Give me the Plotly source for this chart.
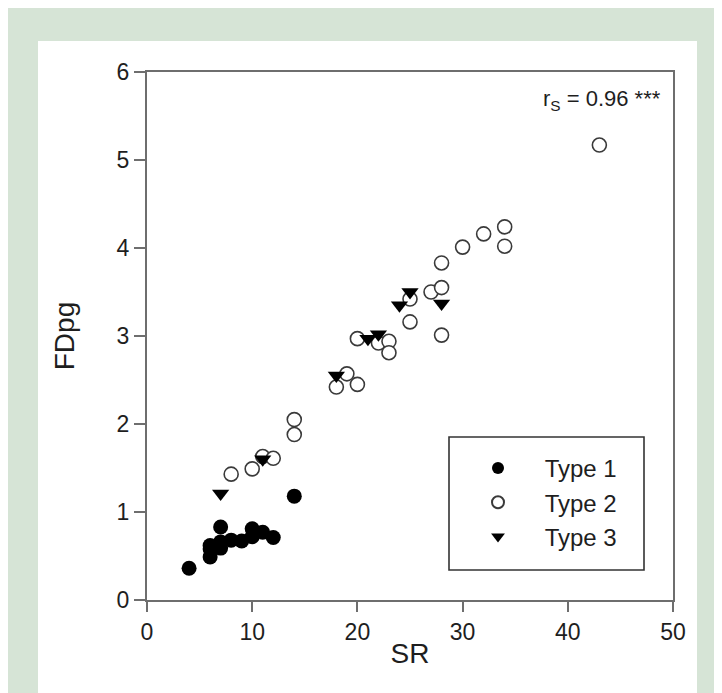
import plotly.graph_objects as go

# Data
type1_sr = [4, 6, 6, 6, 7, 7, 7, 8, 9, 10, 10, 11, 12, 14]
type1_fd = [0.36, 0.49, 0.58, 0.62, 0.83, 0.59, 0.66, 0.68, 0.67, 0.81, 0.72, 0.77, 0.71, 1.18]

type2_sr = [8, 10, 11, 12, 14, 14, 18, 19, 20, 20, 22, 23, 23, 25, 25, 27, 28, 28, 28, 30, 32, 34, 34, 43]
type2_fd = [1.43, 1.49, 1.63, 1.61, 2.05, 1.88, 2.42, 2.57, 2.45, 2.97, 2.92, 2.94, 2.81, 3.16, 3.42, 3.50, 3.55, 3.01, 3.83, 4.01, 4.16, 4.24, 4.02, 5.17]

type3_sr = [7, 11, 18, 21, 22, 24, 25, 28]
type3_fd = [1.21, 1.60, 2.55, 2.97, 3.02, 3.35, 3.50, 3.37]

x_ticks = [0, 10, 20, 30, 40, 50]
y_ticks = [0, 1, 2, 3, 4, 5, 6]

FONT = "Liberation Sans, Arial, sans-serif"
AXIS_COLOR = "#6e6e6e"
TEXT_COLOR = "#1e1e1e"

PAD = "\u00a0\u00a0\u00a0\u00a0"

fig = go.Figure()
fig.add_trace(go.Scatter(
    x=type1_sr, y=type1_fd, mode="markers", name=PAD + "Type 1",
    marker=dict(symbol="circle", size=15, color="black", line=dict(width=0)),
))
fig.add_trace(go.Scatter(
    x=type2_sr, y=type2_fd, mode="markers", name=PAD + "Type 2",
    marker=dict(symbol="circle", size=14, color="white", line=dict(width=1.6, color="#3a3a3a")),
))
fig.add_trace(go.Scatter(
    x=type3_sr, y=type3_fd, mode="markers", name=PAD + "Type 3",
    marker=dict(symbol="triangle-down", size=15, color="black", line=dict(width=0)),
))

# screen pixel positions (page has an 8px body margin)
OFF = 8
W, H = 722, 693
L, R, T, B = 147 - OFF, 673 - OFF, 72 - OFF, 600 - OFF
pw, ph = R - L, B - T

def px2paper_x(px):
    return (px - OFF - L) / pw

def px2paper_y(py):
    return (B - (py - OFF)) / ph

shapes = [
    # white panel on green background
    dict(type="rect", xref="paper", yref="paper", layer="below",
         x0=px2paper_x(38), x1=px2paper_x(697), y0=px2paper_y(700), y1=px2paper_y(41),
         fillcolor="white", line=dict(width=0)),
    # legend frame
    dict(type="rect", xref="paper", yref="paper",
         x0=px2paper_x(449), x1=px2paper_x(644), y0=px2paper_y(570), y1=px2paper_y(437),
         fillcolor="rgba(0,0,0,0)", line=dict(width=1.6, color="#333333")),
]

fig.update_layout(
    width=W, height=H,
    margin=dict(l=L, r=W - R, t=T, b=H - B, pad=0),
    paper_bgcolor="#d6e4d6",
    plot_bgcolor="white",
    font=dict(family=FONT, color=TEXT_COLOR, size=23),
    showlegend=True,
    legend=dict(
        x=px2paper_x(478), y=px2paper_y(446), xanchor="left", yanchor="top",
        bgcolor="rgba(0,0,0,0)", borderwidth=0,
        font=dict(size=24, family=FONT, color=TEXT_COLOR),
        itemsizing="constant", tracegroupgap=0,
    ),
    shapes=shapes,
    annotations=[
        dict(x=px2paper_x(663), y=px2paper_y(100), xref="paper", yref="paper",
             xanchor="right", yanchor="middle", showarrow=False,
             text="r<sub>S</sub> = 0.96 ***",
             font=dict(size=22, family=FONT, color=TEXT_COLOR)),
    ],
)

fig.update_xaxes(
    range=[0, 50], tickvals=x_ticks, ticktext=[str(v) for v in x_ticks],
    showgrid=False, zeroline=False,
    showline=True, linecolor=AXIS_COLOR, linewidth=2, mirror=True,
    ticks="outside", ticklen=10, tickwidth=1.5, tickcolor=AXIS_COLOR,
    tickfont=dict(size=23, family=FONT, color=TEXT_COLOR),
    title=dict(text="SR", font=dict(size=28, family=FONT, color=TEXT_COLOR), standoff=0),
)
fig.update_yaxes(
    range=[0, 6], tickvals=y_ticks, ticktext=[str(v) for v in y_ticks],
    showgrid=False, zeroline=False,
    showline=True, linecolor=AXIS_COLOR, linewidth=2, mirror=True,
    ticks="outside", ticklen=11, tickwidth=1.5, tickcolor=AXIS_COLOR,
    tickfont=dict(size=23, family=FONT, color=TEXT_COLOR),
    title=dict(text="FDpg", font=dict(size=28, family=FONT, color=TEXT_COLOR), standoff=34),
)

fig.write_html("out.html")
